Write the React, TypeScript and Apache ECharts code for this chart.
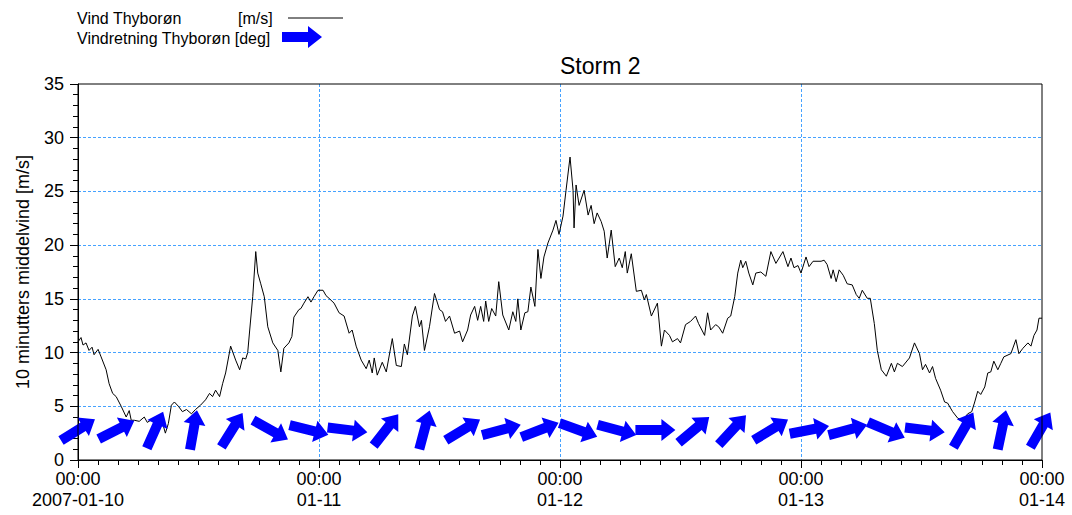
import React, { useEffect, useRef } from "react";
import * as echarts from "echarts";

// Hours after 2007-01-10 00:00 and 10-min mean wind speed [m/s]
const windHours = [
  0, 0.3, 0.5, 0.8, 1.1, 1.4, 1.6, 2.0, 2.3, 2.8, 3.1, 3.45, 3.8, 4.3, 4.8, 5.1, 5.3, 5.6, 6.1, 6.6, 6.9, 7.4, 7.8, 8.1, 8.4, 8.7, 9.0, 9.3, 9.6, 10.0,
  10.4, 10.8, 11.3, 11.7, 12.2, 12.7, 13.1, 13.4, 13.7, 14.1, 14.4, 14.7, 15.2, 15.7, 16.1, 16.4, 16.7, 16.9, 17.1, 17.4, 17.7, 17.9, 18.2, 18.55, 18.9, 19.4, 19.9, 20.2, 20.5, 21.0,
  21.3, 21.5, 22.0, 22.2, 22.5, 22.9, 23.2, 23.5, 23.9, 24.4, 24.7, 25.0, 25.5, 26.0, 26.5, 27.0, 27.3, 27.7, 28.2, 28.7, 29.0, 29.3, 29.5, 29.8, 30.3, 30.7, 31.3, 31.7, 32.2, 32.5,
  32.8, 33.3, 33.6, 34.0, 34.2, 34.5, 35.0, 35.5, 36.0, 36.3, 36.6, 37.0, 37.5, 38.0, 38.3, 38.8, 39.1, 39.5, 39.8, 40.1, 40.4, 40.6, 40.9, 41.2, 41.6, 41.9, 42.3, 42.9, 43.3, 43.6,
  43.8, 44.1, 44.5, 44.8, 45.1, 45.5, 45.8, 46.1, 46.4, 46.8, 47.3, 47.6, 47.9, 48.3, 48.6, 49.0, 49.3, 49.4, 49.6, 49.9, 50.4, 50.8, 51.1, 51.4, 51.7, 52.1, 52.4, 52.7, 53.1, 53.5,
  53.9, 54.2, 54.5, 54.7, 55.1, 55.6, 56.1, 56.4, 56.6, 57.1, 57.7, 58.1, 58.4, 58.9, 59.2, 59.7, 60.0, 60.5, 61.0, 61.5, 61.8, 62.4, 62.7, 63.0, 63.5, 63.8, 64.2, 64.7, 65.0, 65.4,
  65.7, 66.0, 66.2, 66.5, 66.8, 67.2, 67.5, 68.0, 68.5, 69.0, 69.5, 70.2, 70.7, 71.0, 71.3, 71.7, 72.0, 72.3, 72.5, 72.8, 73.2, 74.0, 74.3, 74.6, 75.0, 75.2, 75.5, 75.8, 76.2, 76.6,
  77.1, 77.5, 77.8, 78.1, 78.6, 78.9, 79.3, 79.6, 80.0, 80.5, 81.0, 81.3, 81.6, 82.1, 82.8, 83.3, 83.8, 84.1, 84.4, 84.8, 85.1, 85.4, 85.9, 86.3, 86.6, 87.1, 87.6, 88.1, 88.6, 89.0,
  89.3, 89.6, 89.9, 90.3, 90.6, 90.9, 91.2, 91.6, 91.9, 92.2, 92.9, 93.4, 93.7, 94.1, 94.6, 94.9, 95.2, 95.5, 95.7, 96.0,
];
const windSpeed = [
  11.0, 11.4, 10.7, 10.9, 10.2, 10.5, 9.8, 10.3, 9.6, 8.4, 7.1, 6.2, 5.9, 5.0, 4.0, 4.6, 3.7, 3.7, 3.6, 4.0, 3.5, 3.8, 3.3, 3.0, 3.5, 2.5, 3.4, 5.1, 5.4, 5.0,
  4.5, 4.7, 4.3, 4.7, 5.1, 5.6, 6.2, 5.9, 6.5, 5.9, 7.1, 8.1, 10.6, 9.3, 8.4, 9.5, 9.4, 10.0, 12.1, 15.2, 19.4, 17.4, 16.4, 15.2, 12.4, 10.9, 10.2, 8.2, 10.4, 10.9,
  11.5, 13.3, 14.0, 14.1, 14.6, 15.2, 14.7, 15.2, 15.8, 15.8, 15.3, 15.05, 14.6, 13.7, 13.4, 11.8, 12.1, 10.6, 9.3, 8.5, 9.3, 8.1, 9.5, 7.9, 9.1, 8.2, 11.3, 8.8, 8.7, 10.8,
  9.8, 13.4, 14.3, 12.4, 13.0, 10.2, 12.4, 15.5, 14.0, 13.8, 12.9, 13.4, 11.8, 12.0, 11.0, 12.1, 13.5, 14.3, 13.0, 14.3, 12.9, 14.8, 12.9, 14.1, 13.4, 16.6, 13.5, 12.1, 13.8, 12.9,
  15.0, 12.1, 13.7, 13.8, 16.1, 14.3, 19.6, 16.9, 18.9, 20.2, 21.4, 22.3, 21.0, 22.7, 25.1, 28.2, 25.1, 21.6, 25.6, 23.7, 25.1, 22.8, 23.7, 22.0, 23.0, 22.2, 21.3, 18.8, 21.4, 18.0,
  18.8, 17.9, 19.4, 17.4, 19.2, 15.7, 15.8, 14.9, 15.4, 13.4, 14.6, 10.6, 12.1, 11.6, 11.0, 11.3, 10.9, 12.6, 12.9, 13.4, 12.7, 11.6, 13.7, 12.1, 12.6, 12.4, 11.8, 13.2, 13.4, 15.2,
  17.4, 18.6, 17.9, 18.5, 17.4, 16.3, 17.4, 17.5, 17.1, 19.4, 18.3, 19.4, 18.0, 18.8, 17.9, 18.1, 17.4, 18.3, 18.9, 18.0, 18.5, 18.5, 18.6, 18.2, 16.9, 17.7, 16.6, 17.7, 17.2, 16.4,
  16.3, 15.4, 15.05, 15.8, 15.05, 15.05, 12.7, 10.2, 8.4, 7.8, 9.0, 8.2, 9.0, 8.7, 9.5, 10.9, 9.9, 8.4, 8.9, 8.1, 8.7, 7.6, 6.5, 5.4, 5.3, 4.5, 3.9, 3.7, 4.3, 4.5,
  5.4, 6.4, 6.1, 6.8, 8.1, 8.2, 9.2, 8.4, 9.0, 9.6, 9.9, 11.2, 9.9, 10.4, 10.9, 10.6, 11.6, 12.1, 13.2, 13.2,
];

// Wind direction [deg, coming from], one arrow every 230 minutes
const dirMinutes = [0, 230, 460, 690, 920, 1150, 1380, 1610, 1840, 2070, 2300, 2530, 2760, 2990, 3220, 3450, 3680, 3910, 4140, 4370, 4600, 4830, 5060, 5290, 5520, 5750];
const dirDeg = [238, 243, 204, 190, 212, 299, 284, 277, 218, 195, 239, 255, 249, 290, 285, 270, 230, 223, 239, 259, 255, 293, 277, 210, 192, 210];
const arrowLevel = 2.8;

const dayLabels = ["00:00\n2007-01-10", "00:00\n01-11", "00:00\n01-12", "00:00\n01-13", "00:00\n01-14"];

const FONT = "'Liberation Sans', Arial, sans-serif";
const ARROW_PTS = [[-20, -5], [6, -5], [6, -11], [20, 0], [6, 11], [6, 5], [-20, 5]];
const GRID_LINE = { color: "#45a2ff", type: [3, 2], width: 1 };

export default function App() {
  const ref = useRef<HTMLDivElement>(null);
  useEffect(() => {
    if (!ref.current) return;
    const chart = echarts.init(ref.current, undefined, { renderer: "svg" });
    const lineData = windHours.map((h, i) => [h, windSpeed[i]]);
    const arrowData = dirMinutes.map((m, i) => [m / 60, arrowLevel, dirDeg[i]]);
    chart.setOption({
      animation: false,
      backgroundColor: "#fff",
      textStyle: { fontFamily: FONT },
      grid: { left: 78, right: 30, top: 84, bottom: 55, show: true, borderColor: "#000", borderWidth: 1, backgroundColor: "transparent", z: 5 },
      xAxis: {
        type: "value",
        min: 0,
        max: 96,
        interval: 24,
        axisLine: { show: true, lineStyle: { color: "#000", width: 1 } },
        axisTick: { show: true, inside: false, length: 8, lineStyle: { color: "#000" } },
        minorTick: { show: true, splitNumber: 12, length: 5, lineStyle: { color: "#000" } },
        splitLine: { show: true, showMinLine: false, showMaxLine: false, lineStyle: GRID_LINE },
        axisLabel: {
          color: "#000",
          fontSize: 18,
          fontFamily: FONT,
          lineHeight: 21,
          margin: 8,
          formatter: (v: number) => dayLabels[Math.round(v / 24)] ?? "",
        },
      },
      yAxis: {
        type: "value",
        min: 0,
        max: 35,
        interval: 5,
        name: "10 minutters middelvind [m/s]",
        nameLocation: "middle",
        nameGap: 46,
        nameTextStyle: { fontSize: 18, color: "#000", fontFamily: FONT },
        axisLine: { show: true, lineStyle: { color: "#000", width: 1 } },
        axisTick: { show: true, inside: false, length: 8, lineStyle: { color: "#000" } },
        minorTick: { show: true, splitNumber: 5, length: 5, lineStyle: { color: "#000" } },
        splitLine: { show: true, showMinLine: false, showMaxLine: false, lineStyle: GRID_LINE },
        axisLabel: { color: "#000", fontSize: 18, fontFamily: FONT, margin: 14 },
      },
      series: [
        {
          type: "line",
          data: lineData,
          symbol: "none",
          lineStyle: { color: "#000", width: 1 },
          z: 3,
        },
        {
          type: "custom",
          data: arrowData,
          z: 4,
          clip: false,
          renderItem: (params: any, api: any) => {
            const p = api.coord([api.value(0), api.value(1)]);
            const from = api.value(2);
            const to = from - 180;
            const rot = ((90 - to) * Math.PI) / 180;
            return {
              type: "polygon",
              x: p[0],
              y: p[1],
              rotation: rot,
              shape: { points: ARROW_PTS },
              style: { fill: "#0000ff", stroke: null },
            };
          },
        },
      ],
      graphic: [
        { type: "text", left: 560, top: 54, style: { text: "Storm 2", fontSize: 23, fontFamily: FONT, fill: "#000", textAlign: "center" } },
        { type: "text", x: 77, y: 10, style: { text: "Vind Thyborøn", fontSize: 16, fontFamily: FONT, fill: "#000" } },
        { type: "text", x: 238, y: 10, style: { text: "[m/s]", fontSize: 16, fontFamily: FONT, fill: "#000" } },
        { type: "line", shape: { x1: 288, y1: 18, x2: 343, y2: 18 }, style: { stroke: "#000", lineWidth: 1 } },
        { type: "text", x: 77, y: 30, style: { text: "Vindretning Thyborøn [deg]", fontSize: 16, fontFamily: FONT, fill: "#000" } },
        { type: "polygon", x: 302, y: 37, shape: { points: ARROW_PTS }, style: { fill: "#0000ff" } },
      ],
    });
    return () => chart.dispose();
  }, []);
  return <div ref={ref} style={{ width: 1072, height: 515, position: "absolute", left: 0, top: 0 }} />;
}
